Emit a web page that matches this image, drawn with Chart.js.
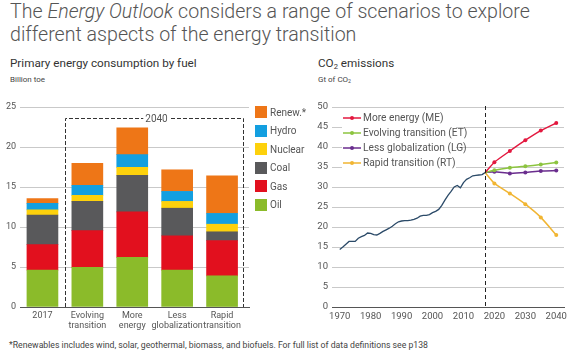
<!DOCTYPE html>
<html><head><meta charset="utf-8">
<script src="https://cdn.jsdelivr.net/npm/chart.js@4.4.1/dist/chart.umd.min.js"></script>
<style>
html,body{margin:0;padding:0;background:#fff;}
body{width:582px;height:360px;position:relative;overflow:hidden;font-family:Roboto,"Liberation Sans",sans-serif;}
.t{position:absolute;white-space:nowrap;}
#title{left:10px;top:0;font-size:19.6px;line-height:23px;font-weight:300;color:#555;}
.sub{font-size:11.7px;line-height:11.7px;color:#333;top:58px;}
.unit{font-size:8px;line-height:8px;color:#444;top:75.5px;}
sub{font-size:65%;vertical-align:-0.25em;line-height:0;}
#foot{left:9px;top:340.5px;font-size:8.7px;line-height:8.7px;color:#444;}
canvas{position:absolute;top:0;}
#cL{left:0;}
#cR{left:290px;}
.lg{position:absolute;font-size:10px;color:#555;white-space:nowrap;}
#legR .lg{font-size:10.2px;}
.sq{position:absolute;width:12px;height:12px;}
#legR{position:absolute;left:342px;top:110px;width:114px;height:60px;background:#fff;}
</style></head>
<body>
<div class="t" id="title">The <i>Energy Outlook</i> considers a range of scenarios to explore<br>different aspects of the energy transition</div>
<div class="t sub" style="left:10px">Primary energy consumption by fuel</div>
<div class="t unit" style="left:10px">Billion toe</div>
<div class="t sub" style="left:318px">CO<sub>2</sub> emissions</div>
<div class="t unit" style="left:318px">Gt of CO<sub>2</sub></div>
<canvas id="cL" width="290" height="340"></canvas>
<canvas id="cR" width="292" height="340"></canvas>
<div id="legL"></div>
<div id="legR"></div>
<div class="t" id="foot">*Renewables includes wind, solar, geothermal, biomass, and biofuels. For full list of data definitions see p138</div>
<script>
// ---- Left chart data: primary energy consumption by fuel (billion toe)
const categories = [['2017'], ['Evolving', 'transition'], ['More', 'energy'], ['Less', 'globalization'], ['Rapid', 'transition']];
const oil     = [4.6, 4.95, 6.2, 4.6, 3.9];
const gas     = [3.2, 4.6, 5.7, 4.3, 4.4];
const coal    = [3.7, 3.65, 4.55, 3.45, 1.1];
const nuclear = [0.65, 0.75, 1.0, 0.85, 0.95];
const hydro   = [0.8, 1.25, 1.6, 1.25, 1.35];
const renew   = [0.6, 2.75, 3.35, 2.7, 4.7];
const fuelNames = ['Oil', 'Gas', 'Coal', 'Nuclear', 'Hydro', 'Renew.*'];
const energyTicks = [0, 5, 10, 15, 20, 25];
const groupLabel = '2040';

// ---- Right chart data: CO2 emissions (Gt of CO2)
const histYears = [1970,1971,1972,1973,1974,1975,1976,1977,1978,1979,1980,1981,1982,1983,1984,1985,1986,1987,1988,1989,1990,1991,1992,1993,1994,1995,1996,1997,1998,1999,2000,2001,2002,2003,2004,2005,2006,2007,2008,2009,2010,2011,2012,2013,2014,2015,2016,2017];
const histCO2   = [14.4,15.0,15.7,16.4,16.4,16.4,17.2,17.6,17.9,18.5,18.4,18.1,18.0,18.4,18.9,19.3,19.7,20.2,20.8,21.3,21.5,21.6,21.6,21.7,21.9,22.2,22.7,22.9,22.9,23.1,23.6,23.9,24.4,25.4,26.7,27.9,28.9,30.0,30.4,29.8,31.1,31.9,32.3,32.8,32.9,33.0,33.1,33.6];
const scenYears = [2017, 2020, 2025, 2030, 2035, 2040];
const moreEnergy   = [33.6, 36.2, 39.0, 41.7, 44.1, 46.0];
const evolvingTr   = [33.6, 34.2, 34.8, 35.2, 35.6, 36.1];
const lessGlobal   = [33.6, 33.8, 33.4, 33.6, 34.0, 34.1];
const rapidTr      = [33.6, 30.9, 28.4, 25.7, 22.4, 18.0];
const scenNames = ['More energy (ME)', 'Evolving transition (ET)', 'Less globalization (LG)', 'Rapid transition (RT)'];
const yearTicks = [1970, 1980, 1990, 2000, 2010, 2020, 2030, 2040];
const co2Ticks = [0, 5, 10, 15, 20, 25, 30, 35, 40, 45, 50];

// ---- styles
const fuelColors = ['#8bbb2a', '#e2101e', '#59595b', '#fdd10c', '#139fe0', '#ee7617'];
const scenColors = ['#e3183f', '#8cc43f', '#6a2d8e', '#f1b532'];
const histColor = '#2b4a68';
const gridColor = '#c9c9c9';

Chart.defaults.font.family = 'Roboto, "Liberation Sans", sans-serif';
Chart.defaults.color = '#555';
Chart.defaults.animation = false;

const fuelSeries = [oil, gas, coal, nuclear, hydro, renew];

const boxPlugin = {
  id: 'box2040',
  afterDatasetsDraw(chart) {
    const {ctx, scales: {x, y}} = chart;
    const l = Math.round(x.getPixelForValue(0.5)) + 0.5;
    const r = Math.round(x.getPixelForValue(4.47)) + 0.5;
    const t = Math.round(y.getPixelForValue(23.6)) + 0.5;
    const b = y.getPixelForValue(0);
    ctx.save();
    ctx.strokeStyle = '#333';
    ctx.lineWidth = 1;
    ctx.setLineDash([4, 2]);
    ctx.beginPath();
    ctx.moveTo(l, b); ctx.lineTo(l, t); ctx.lineTo(r, t); ctx.lineTo(r, b);
    ctx.stroke();
    ctx.font = '10px Roboto, "Liberation Sans", sans-serif';
    const cx = (l + r) / 2 + 2;
    const w = ctx.measureText(groupLabel).width;
    ctx.fillStyle = '#fff';
    ctx.fillRect(cx - w / 2 - 2, t - 6, w + 4, 12);
    ctx.fillStyle = '#555';
    ctx.textAlign = 'center';
    ctx.textBaseline = 'middle';
    ctx.fillText(groupLabel, cx, t + 0.5);
    ctx.restore();
  }
};

new Chart(document.getElementById('cL'), {
  type: 'bar',
  data: {
    datasets: fuelSeries.map((s, k) => ({
      label: fuelNames[k],
      data: s.map((v, i) => ({x: i, y: v})),
      backgroundColor: fuelColors[k],
      borderWidth: 0,
      barThickness: 31,
      stack: 'fuel'
    }))
  },
  options: {
    responsive: false,
    layout: {padding: {top: 107, left: 0, right: 41, bottom: 0}},
    plugins: {legend: {display: false}, tooltip: {enabled: false}},
    scales: {
      x: {
        type: 'linear', min: -0.5, max: 4.6, stacked: true, offset: false,
        afterBuildTicks: s => { s.ticks = categories.map((c, i) => ({value: i})); },
        afterFit: s => { s.height = 33; },
        grid: {display: false, drawTicks: false, offset: false},
        border: {display: true, color: '#555', width: 1},
        ticks: {autoSkip: false, maxRotation: 0, padding: 4, font: {size: 9, lineHeight: 1.1}, color: '#555',
          callback: v => categories[v]}
      },
      y: {
        min: 0, max: 25, stacked: true,
        afterBuildTicks: s => { s.ticks = energyTicks.map(v => ({value: v})); },
        afterFit: s => { s.width = 20; },
        grid: {color: gridColor, drawTicks: false},
        border: {display: false},
        ticks: {padding: 4, font: {size: 9}, color: '#555'}
      }
    }
  },
  plugins: [boxPlugin]
});

const dashPlugin = {
  id: 'dash',
  afterDatasetsDraw(chart) {
    const {ctx, chartArea, scales: {x}} = chart;
    const px = Math.round(x.getPixelForValue(scenYears[0])) + 0.5;
    ctx.save();
    ctx.strokeStyle = '#222';
    ctx.lineWidth = 1;
    ctx.setLineDash([4, 3]);
    ctx.beginPath();
    ctx.moveTo(px, chartArea.top - 1);
    ctx.lineTo(px, chartArea.bottom);
    ctx.stroke();
    ctx.restore();
  }
};

const scenSeries = [moreEnergy, evolvingTr, lessGlobal, rapidTr];
new Chart(document.getElementById('cR'), {
  type: 'line',
  data: {
    datasets: [
      ...scenSeries.map((s, k) => ({
        label: scenNames[k],
        data: s.map((v, i) => ({x: scenYears[i], y: v})),
        borderColor: scenColors[k],
        backgroundColor: scenColors[k],
        borderWidth: 1.5,
        tension: 0.2,
        pointRadius: c => c.dataIndex === 0 ? 0 : 2,
        pointBorderWidth: 0
      })),
      {
        label: 'History',
        data: histYears.map((yr, i) => ({x: yr, y: histCO2[i]})),
        borderColor: histColor,
        borderWidth: 1.3,
        pointRadius: 0,
        tension: 0
      }
    ]
  },
  options: {
    responsive: false,
    layout: {padding: {top: 107, left: 0, right: 18, bottom: 0}},
    plugins: {legend: {display: false}, tooltip: {enabled: false}},
    scales: {
      x: {
        type: 'linear', min: 1967.5, max: 2042.5,
        afterBuildTicks: s => { s.ticks = yearTicks.map(v => ({value: v})); },
        afterFit: s => { s.height = 33; },
        grid: {display: false, drawTicks: false},
        border: {display: true, color: '#555', width: 1},
        ticks: {padding: 4, font: {size: 9.5}, color: '#555', callback: v => String(v)}
      },
      y: {
        min: 0, max: 50,
        afterBuildTicks: s => { s.ticks = co2Ticks.map(v => ({value: v})); },
        afterFit: s => { s.width = 42; },
        grid: {color: gridColor, drawTicks: false},
        border: {display: false},
        ticks: {padding: 4, font: {size: 9.5}, color: '#555'}
      }
    }
  },
  plugins: [dashPlugin]
});

// ---- HTML legends
const legL = document.getElementById('legL');
for (let k = fuelNames.length - 1, row = 0; k >= 0; k--, row++) {
  const top = 106 + row * 18.5;
  const sq = document.createElement('div');
  sq.className = 'sq';
  sq.style.left = '255px'; sq.style.top = top + 'px'; sq.style.background = fuelColors[k];
  legL.appendChild(sq);
  const tx = document.createElement('div');
  tx.className = 'lg';
  tx.style.left = '270px'; tx.style.top = (top + 0.5) + 'px'; tx.style.lineHeight = '12px';
  tx.textContent = fuelNames[k];
  legL.appendChild(tx);
}
const legR = document.getElementById('legR');
scenNames.forEach((n, k) => {
  const cy = 118.3 + k * 15 - 110;
  const svg = document.createElementNS('http://www.w3.org/2000/svg', 'svg');
  svg.setAttribute('width', '18'); svg.setAttribute('height', '6');
  svg.style.position = 'absolute'; svg.style.left = '1px'; svg.style.top = (cy - 3) + 'px';
  svg.innerHTML = `<line x1="0" y1="3" x2="18" y2="3" stroke="${scenColors[k]}" stroke-width="1.5"/><circle cx="9" cy="3" r="2" fill="${scenColors[k]}"/>`;
  legR.appendChild(svg);
  const tx = document.createElement('div');
  tx.className = 'lg';
  tx.style.left = '21px'; tx.style.top = (cy - 6) + 'px'; tx.style.lineHeight = '12px';
  tx.textContent = n;
  legR.appendChild(tx);
});
</script>
</body></html>
